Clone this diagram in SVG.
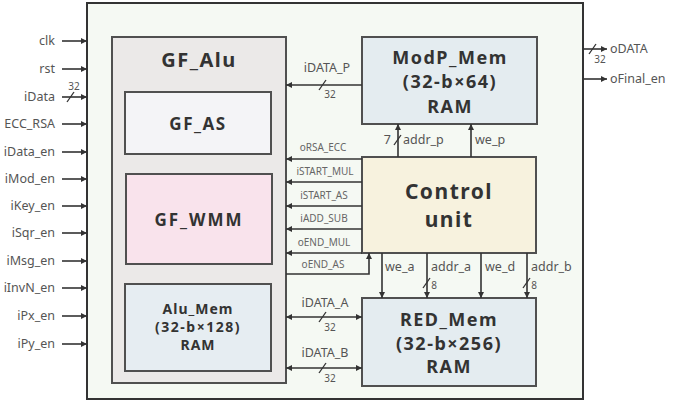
<svg xmlns="http://www.w3.org/2000/svg" width="680" height="403" viewBox="0 0 680 403">
<defs>
<marker id="ah" viewBox="0 0 8 8" refX="8" refY="4" markerWidth="6" markerHeight="6" markerUnits="userSpaceOnUse" orient="auto-start-reverse">
<path d="M0,0 L8,4 L0,8 z" fill="#333"/>
</marker>
</defs>
<style>
.box{stroke:#505050;stroke-width:2}
.ttl{font-family:"Noto Sans","Open Sans",sans-serif;font-weight:bold;fill:#333;text-anchor:middle}
.lbl{font-family:"Noto Sans","Open Sans",sans-serif;font-size:12.5px;fill:#555}
.sm{font-family:"Noto Sans","Open Sans",sans-serif;font-size:10px;fill:#666;text-anchor:middle}
.num{font-family:"Noto Sans","Open Sans",sans-serif;font-size:10px;fill:#555;text-anchor:middle}
.w{stroke:#333;stroke-width:1.6;fill:none}
.a{marker-end:url(#ah)}
.d{marker-start:url(#ah);marker-end:url(#ah)}
.sl{stroke:#333;stroke-width:1.3}
</style>
<rect width="680" height="403" fill="#ffffff"/>
<g id="top">
<rect x="87" y="3" width="496" height="396" fill="#f5f9f3" stroke="#333" stroke-width="2"/>
</g>
<g id="gf_alu">
<rect class="box" x="112" y="37" width="174" height="346" fill="#ebe9e8"/>
<text class="ttl" x="199" y="67" font-size="20" letter-spacing="1.5">GF_Alu</text>
</g>
<g id="gf_as">
<rect class="box" x="125" y="92" width="146" height="62" fill="#f4f4f7"/>
<text class="ttl" x="198" y="130" font-size="17" letter-spacing="1.5">GF_AS</text>
</g>
<g id="gf_wmm">
<rect class="box" x="126" y="174" width="146" height="90" fill="#f9e3ec"/>
<text class="ttl" x="199" y="226" font-size="17" letter-spacing="2">GF_WMM</text>
</g>
<g id="alu_mem">
<rect class="box" x="125" y="284" width="146" height="87" fill="#e6edf2"/>
<text class="ttl" x="198" y="314" font-size="14" letter-spacing="1">Alu_Mem</text>
<text class="ttl" x="198" y="332" font-size="14" letter-spacing="1.5">(32-b×128)</text>
<text class="ttl" x="198" y="350" font-size="14" letter-spacing="1">RAM</text>
</g>
<g id="modp_mem">
<rect class="box" x="362" y="37" width="175" height="87" fill="#e4ecf0"/>
<text class="ttl" x="450" y="64" font-size="18" letter-spacing="1.5">ModP_Mem</text>
<text class="ttl" x="450" y="88" font-size="18" letter-spacing="1.5">(32-b×64)</text>
<text class="ttl" x="450" y="113" font-size="18" letter-spacing="1.5">RAM</text>
</g>
<g id="control">
<rect class="box" x="362" y="157" width="174" height="96" fill="#f7f2de"/>
<text class="ttl" x="449" y="199" font-size="21" letter-spacing="1.5">Control</text>
<text class="ttl" x="449" y="227" font-size="21" letter-spacing="1.5">unit</text>
</g>
<g id="red_mem">
<rect class="box" x="362" y="298" width="174" height="88" fill="#e4ecf0"/>
<text class="ttl" x="449" y="326" font-size="18" letter-spacing="1.5">RED_Mem</text>
<text class="ttl" x="449" y="350" font-size="18" letter-spacing="1.5">(32-b×256)</text>
<text class="ttl" x="449" y="373" font-size="18" letter-spacing="1.5">RAM</text>
</g>
<g id="connectors">
<line class="w a" x1="62" y1="41" x2="87" y2="41"/>
<line class="w a" x1="62" y1="69" x2="87" y2="69"/>
<line class="w a" x1="62" y1="97" x2="87" y2="97"/>
<line class="sl" x1="67" y1="102" x2="74" y2="92"/>
<line class="w a" x1="62" y1="124" x2="87" y2="124"/>
<line class="w a" x1="62" y1="152" x2="87" y2="152"/>
<line class="w a" x1="62" y1="179" x2="87" y2="179"/>
<line class="w a" x1="62" y1="206" x2="87" y2="206"/>
<line class="w a" x1="62" y1="233" x2="87" y2="233"/>
<line class="w a" x1="62" y1="261" x2="87" y2="261"/>
<line class="w a" x1="62" y1="288" x2="87" y2="288"/>
<line class="w a" x1="62" y1="316" x2="87" y2="316"/>
<line class="w a" x1="62" y1="344" x2="87" y2="344"/>
<line class="w a" x1="583" y1="49" x2="607" y2="49"/>
<line class="sl" x1="589" y1="54" x2="596" y2="44"/>
<line class="w a" x1="583" y1="79" x2="607" y2="79"/>
<line class="w a" x1="362" y1="85" x2="286" y2="85"/>
<line class="sl" x1="319" y1="90" x2="326" y2="80"/>
<line class="w a" x1="362" y1="159" x2="286" y2="159"/>
<line class="w a" x1="362" y1="182" x2="286" y2="182"/>
<line class="w a" x1="362" y1="206" x2="286" y2="206"/>
<line class="w a" x1="362" y1="229" x2="286" y2="229"/>
<line class="w a" x1="362" y1="253" x2="286" y2="253"/>
<polyline class="w a" points="286,274 369,274 369,253"/>
<line class="w a" x1="398" y1="157" x2="398" y2="124"/>
<line class="sl" x1="394" y1="145" x2="401" y2="135"/>
<line class="w a" x1="471" y1="157" x2="471" y2="124"/>
<line class="w a" x1="382" y1="253" x2="382" y2="298"/>
<line class="w a" x1="427" y1="253" x2="427" y2="298"/>
<line class="sl" x1="423" y1="288" x2="430" y2="278"/>
<line class="w a" x1="481" y1="253" x2="481" y2="298"/>
<line class="w a" x1="527" y1="253" x2="527" y2="298"/>
<line class="sl" x1="523" y1="288" x2="530" y2="278"/>
<line class="w d" x1="286" y1="317" x2="362" y2="317"/>
<line class="sl" x1="319" y1="322" x2="326" y2="312"/>
<line class="w d" x1="286" y1="368" x2="362" y2="368"/>
<line class="sl" x1="319" y1="373" x2="326" y2="363"/>
</g>
<g id="labels">
<g class="lbl" text-anchor="end">
<text x="55" y="45">clk</text>
<text x="55" y="73">rst</text>
<text x="55" y="101">iData</text>
<text x="55" y="128">ECC_RSA</text>
<text x="55" y="156">iData_en</text>
<text x="55" y="183">iMod_en</text>
<text x="55" y="210">iKey_en</text>
<text x="55" y="237">iSqr_en</text>
<text x="55" y="265">iMsg_en</text>
<text x="55" y="292">iInvN_en</text>
<text x="55" y="320">iPx_en</text>
<text x="55" y="348">iPy_en</text>
</g>
<text class="num" x="74" y="90">32</text>
<text class="lbl" x="610" y="53">oDATA</text>
<text class="lbl" x="610" y="83">oFinal_en</text>
<text class="num" x="600" y="63">32</text>
<text class="lbl" x="327" y="72" text-anchor="middle">iDATA_P</text>
<text class="num" x="330" y="98">32</text>
<text class="sm" x="323" y="151">oRSA_ECC</text>
<text class="sm" x="325" y="175">iSTART_MUL</text>
<text class="sm" x="324" y="199">iSTART_AS</text>
<text class="sm" x="324" y="222">iADD_SUB</text>
<text class="sm" x="324" y="246">oEND_MUL</text>
<text class="sm" x="323" y="268">oEND_AS</text>
<text class="lbl" x="391" y="144" text-anchor="end">7</text>
<text class="lbl" x="403" y="144">addr_p</text>
<text class="lbl" x="475" y="144">we_p</text>
<text class="lbl" x="385" y="271">we_a</text>
<text class="lbl" x="431" y="271">addr_a</text>
<text class="num" x="434" y="289">8</text>
<text class="lbl" x="485" y="271">we_d</text>
<text class="lbl" x="531" y="271">addr_b</text>
<text class="num" x="534" y="289">8</text>
<text class="lbl" x="325" y="307" text-anchor="middle">iDATA_A</text>
<text class="num" x="330" y="331">32</text>
<text class="lbl" x="325" y="357" text-anchor="middle">iDATA_B</text>
<text class="num" x="330" y="382">32</text>
</g>
</svg>
